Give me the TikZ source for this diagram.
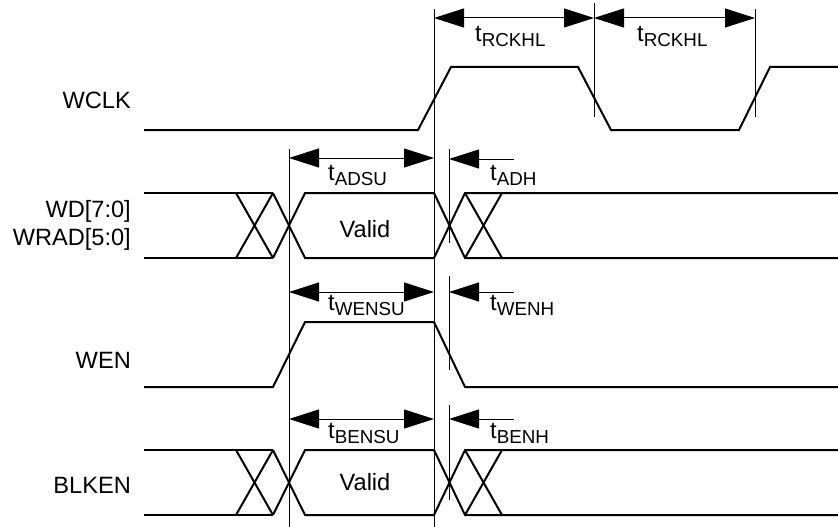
\documentclass[tikz,border=0pt]{standalone}
\usepackage{fontspec}
\setmainfont{Liberation Sans}
\usetikzlibrary{arrows.meta}
\newcommand{\tsub}[1]{t\raisebox{-5.5pt}{\fontsize{18.8}{18.8}\selectfont #1}}
\tikzset{
  sig/.style={line width=2pt, line join=miter},
  refline/.style={line width=1pt},
  dimarrow/.style={line width=1pt, {Triangle[length=30pt,width=19pt]}-{Triangle[length=30pt,width=19pt]}},
  holdarrow/.style={line width=1pt, {Triangle[length=30pt,width=19pt]}-},
  lbl/.style={inner sep=0pt, font=\fontsize{23.6}{27}\selectfont},
}
\begin{document}
\begin{tikzpicture}[x=1pt,y=-1pt]
\useasboundingbox (0,0) rectangle (838,527);
% reference coordinates
\coordinate (A1) at (434,9);   \coordinate (A2) at (434,527);
\coordinate (B1) at (594,3);   \coordinate (B2) at (594,117);
\coordinate (C1) at (755,9);   \coordinate (C2) at (755,117);
\coordinate (D1) at (289,149); \coordinate (D2) at (289,527);
% vertical reference lines
\draw[refline] (A1) -- (A2);
\draw[refline] (B1) -- (B2);
\draw[refline] (C1) -- (C2);
\draw[refline] (D1) -- (D2);
\draw[refline] (449,149) -- (449,243);
\draw[refline] (449,276) -- (449,370);
\draw[refline] (449,405) -- (449,500);
% dimension arrows
\coordinate (r1) at (434,18); \coordinate (r2) at (594,18); \coordinate (r3) at (755,18);
\draw[dimarrow] (r1) -- (r2);
\draw[dimarrow] (r2) -- (r3);
\coordinate (s1) at (289,158); \coordinate (s2) at (434,158);
\draw[dimarrow] (s1) -- (s2);
\coordinate (h1) at (449,159); \coordinate (h2) at (514,159);
\draw[holdarrow] (h1) -- (h2);
\coordinate (s3) at (289,292); \coordinate (s4) at (434,292);
\draw[dimarrow] (s3) -- (s4);
\coordinate (h3) at (449,292); \coordinate (h4) at (514,292);
\draw[holdarrow] (h3) -- (h4);
\coordinate (s5) at (289,419); \coordinate (s6) at (434,419);
\draw[dimarrow] (s5) -- (s6);
\coordinate (h5) at (449,419); \coordinate (h6) at (514,419);
\draw[holdarrow] (h5) -- (h6);
% timing labels
\node[lbl, anchor=base west] (trk1) at (475,41.5) {\tsub{RCKHL}};
\node[lbl, anchor=base west] (trk2) at (637,41.5) {\tsub{RCKHL}};
\node[lbl, anchor=base west] (tadsu) at (328,180) {\tsub{ADSU}};
\node[lbl, anchor=base west] (tadh) at (490,180) {\tsub{ADH}};
\node[lbl, anchor=base west] (twensu) at (328,310) {\tsub{WENSU}};
\node[lbl, anchor=base west] (twenh) at (490,310) {\tsub{WENH}};
\node[lbl, anchor=base west] (tbensu) at (328,438) {\tsub{BENSU}};
\node[lbl, anchor=base west] (tbenh) at (490,438) {\tsub{BENH}};
% signal names
\node[lbl, anchor=base east] (nwclk) at (131,108) {WCLK};
\node[lbl, anchor=base east] (nwd) at (131,217) {WD[7:0]};
\node[lbl, anchor=base east] (nwrad) at (131,245) {WRAD[5:0]};
\node[lbl, anchor=base east] (nwen) at (131,368) {WEN};
\node[lbl, anchor=base east] (nblk) at (131,493) {BLKEN};
% WCLK
\draw[sig] (144,130) -- (418,130) -- (451,67) -- (578,67) -- (611,130) -- (739,130) -- (770,67) -- (838,67);
% WEN
\draw[sig] (144,387) -- (273,387) -- (305,322) -- (434,322) -- (465,387) -- (838,387);
% bus rows
\foreach \t/\b/\nm in {193/258/wd, 450/515/blk}{
  \draw[sig] (144,\t) -- (273,\t);
  \draw[sig] (144,\b) -- (273,\b);
  \draw[sig] (236,\t) -- (273,\b);
  \draw[sig] (236,\b) -- (273,\t);
  \draw[sig] (273,\t) -- (305,\b) -- (434,\b) -- (465,\t) -- (838,\t);
  \draw[sig] (273,\b) -- (305,\t) -- (434,\t) -- (465,\b) -- (838,\b);
  \draw[sig] (465,\t) -- (502,\b);
  \draw[sig] (502,\t) -- (465,\b);
}
\node[lbl, anchor=base] (v1) at (365,237) {Valid};
\node[lbl, anchor=base] (v2) at (365,490) {Valid};
\end{tikzpicture}
\end{document}
